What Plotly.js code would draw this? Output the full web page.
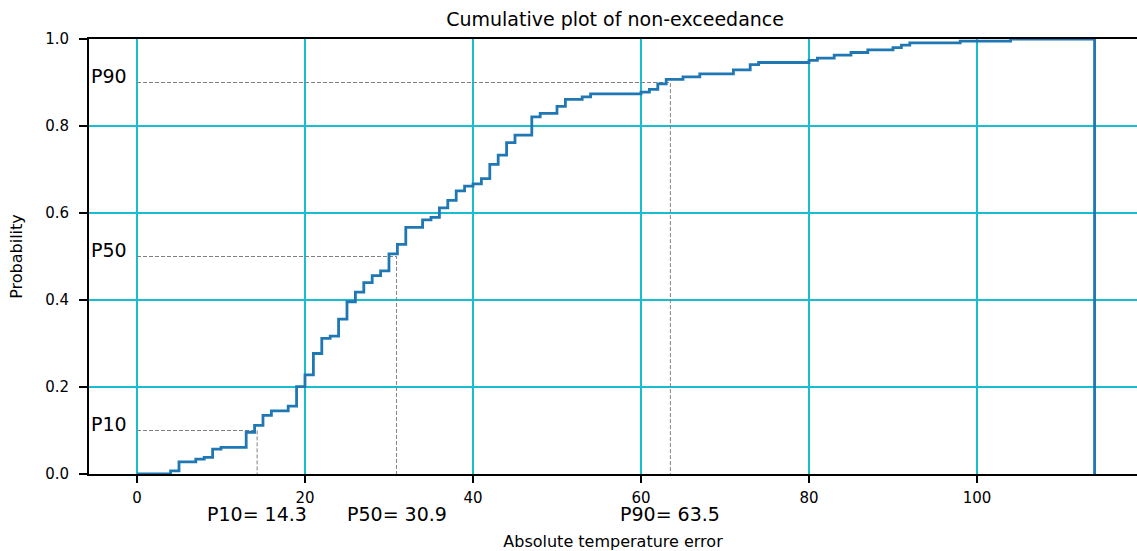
<!DOCTYPE html>
<html>
<head>
<meta charset="utf-8">
<script src="https://cdn.plot.ly/plotly-3.0.1.min.js"></script>
<style>html,body{margin:0;padding:0;background:#fff;}#chart{width:1137px;height:551px;}</style>
</head>
<body>
<div id="chart"></div>
<script>
// Bin edges where the cumulative step changes, and cumulative probability after each edge
const stepEdges = [0, 4, 5, 7, 8, 9, 10, 13, 14, 15, 16, 18, 19, 20, 21, 22, 23, 24, 25, 26, 27, 28, 29, 30, 31, 32, 34, 35, 36, 37, 38, 39, 40, 41, 42, 43, 44, 45, 47, 48, 50, 51, 53, 54, 60, 61, 62, 63, 65, 67, 71, 73, 74, 80, 81, 83, 85, 87, 90, 91, 92, 98, 104];
const cumProb = [0, 0.007, 0.028, 0.034, 0.038, 0.057, 0.061, 0.096, 0.112, 0.135, 0.145, 0.156, 0.201, 0.228, 0.277, 0.312, 0.317, 0.356, 0.396, 0.418, 0.440, 0.456, 0.467, 0.506, 0.528, 0.567, 0.584, 0.590, 0.612, 0.629, 0.651, 0.662, 0.667, 0.679, 0.712, 0.733, 0.762, 0.779, 0.821, 0.829, 0.845, 0.861, 0.867, 0.874, 0.878, 0.884, 0.897, 0.907, 0.913, 0.920, 0.929, 0.941, 0.946, 0.951, 0.956, 0.963, 0.969, 0.975, 0.980, 0.986, 0.991, 0.995, 1.0];
const lastEdge = 114;

// Percentiles
const pNames = ["P10", "P50", "P90"];
const pLevels = [0.1, 0.5, 0.9];
const pValues = [14.3, 30.9, 63.5];

const xTicks = [0, 20, 40, 60, 80, 100];
const yTicks = [0.0, 0.2, 0.4, 0.6, 0.8, 1.0];

const FONT = "DejaVu Sans, sans-serif";
const GRID = "#17becf";

const traces = [];

// percentile guide lines
for (let i = 0; i < pLevels.length; i++) {
  traces.push({
    type: "scatter", mode: "lines",
    x: [0, pValues[i], pValues[i]],
    y: [pLevels[i], pLevels[i], 0],
    line: {color: "#808080", width: 1, dash: "4px,2px"},
    hoverinfo: "skip", showlegend: false
  });
}

// cumulative step outline (histogram step, closes down to 0 at the last edge)
traces.push({
  type: "scatter", mode: "lines",
  x: stepEdges.concat([lastEdge, lastEdge]),
  y: cumProb.concat([1.0, 0]),
  line: {color: "#1f77b4", width: 2.8, shape: "hv"},
  showlegend: false
});

const annotations = [];
for (let i = 0; i < pLevels.length; i++) {
  annotations.push({
    xref: "paper", yref: "y", x: 0, y: pLevels[i],
    xanchor: "left", yanchor: "middle", yshift: 7,
    text: pNames[i], showarrow: false,
    font: {family: FONT, size: 19, color: "#000"}
  });
  annotations.push({
    xref: "x", yref: "paper", x: pValues[i], y: -0.093,
    xanchor: "center", yanchor: "middle",
    text: pNames[i] + "= " + pValues[i].toFixed(1), showarrow: false,
    font: {family: FONT, size: 19, color: "#000"}
  });
}

const layout = {
  width: 1137, height: 551,
  margin: {l: 89, r: 0, t: 39, b: 77},
  paper_bgcolor: "#fff", plot_bgcolor: "#fff",
  font: {family: FONT, color: "#000"},
  title: {
    text: "Cumulative plot of non-exceedance",
    font: {family: FONT, size: 19, color: "#000"},
    x: 0.502, xref: "paper", xanchor: "center",
    y: 1 - 19 / 551, yref: "container", yanchor: "middle"
  },
  xaxis: {
    range: [-5.714, 119.05],
    tickvals: xTicks, ticktext: xTicks.map(String),
    showgrid: true, gridcolor: GRID, gridwidth: 1.5,
    zeroline: false,
    showline: true, linecolor: "#000", linewidth: 2, mirror: true,
    ticks: "outside", ticklen: 7, tickwidth: 1.5, tickcolor: "#000",
    ticklabelstandoff: 2,
    tickfont: {family: FONT, size: 15, color: "#000"},
    title: {text: "Absolute temperature error", font: {family: FONT, size: 16, color: "#000"}, standoff: 31}
  },
  yaxis: {
    range: [0, 1],
    tickvals: yTicks, ticktext: yTicks.map(v => v.toFixed(1)),
    showgrid: true, gridcolor: GRID, gridwidth: 1.5,
    zeroline: false,
    showline: true, linecolor: "#000", linewidth: 2, mirror: false,
    ticks: "outside", ticklen: 8, tickwidth: 1.5, tickcolor: "#000",
    ticklabelstandoff: 7,
    tickfont: {family: FONT, size: 15, color: "#000"},
    title: {text: "Probability", font: {family: FONT, size: 16, color: "#000"}, standoff: 19}
  },
  annotations: annotations,
  showlegend: false
};

Plotly.newPlot("chart", traces, layout, {staticPlot: true, displayModeBar: false});
</script>
</body>
</html>
